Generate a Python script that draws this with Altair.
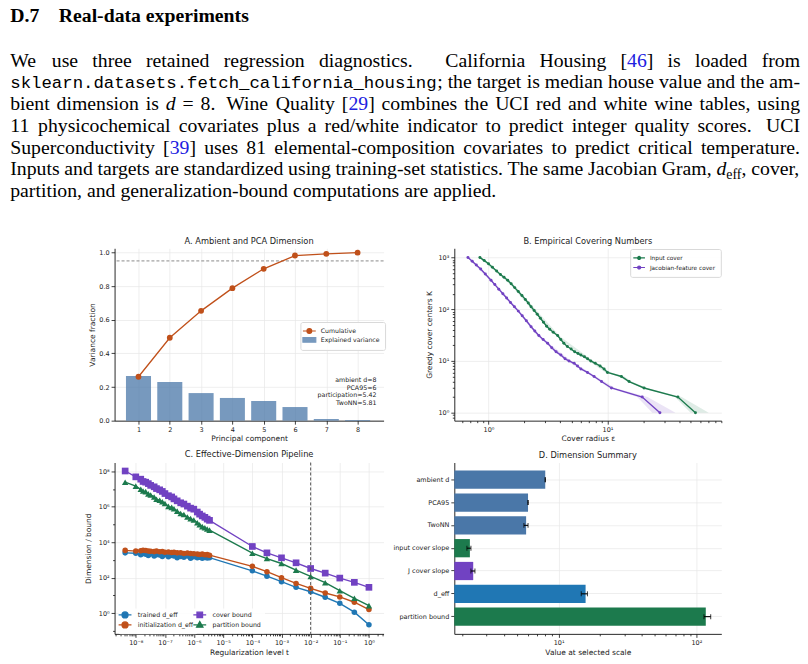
import altair as alt
import pandas as pd

# ------------------------------------------------------------------ data
# A. PCA spectrum of the covariates
pc_index = [1, 2, 3, 4, 5, 6, 7, 8]
explained_var = [0.265, 0.230, 0.164, 0.135, 0.117, 0.081, 0.010, 0.004]
cumulative_var = [0.261, 0.493, 0.653, 0.788, 0.903, 0.982, 0.992, 0.999]
pca_threshold = 0.95
dimension_notes = ["ambient d=8", "PCA95=6", "participation=5.42", "TwoNN=5.81"]

# B. Greedy covering numbers (cover radius, number of centres)
input_eps = [0.847, 0.92, 1.00, 1.08, 1.17, 1.26, 1.35, 1.45, 1.55, 1.66, 1.78, 1.91,
             2.04, 2.16, 2.28, 2.42, 2.57, 2.73, 2.90, 3.08, 3.27, 3.50, 3.81, 4.05,
             4.30, 4.60, 4.95, 5.30, 5.65, 5.98, 6.40, 6.80, 7.24, 7.90, 8.67, 9.37,
             10.0, 13.1, 15.2, 20.3, 39.1, 54.9]
input_K = [1000, 880, 760, 650, 550, 470, 415, 365, 310, 262, 220, 185, 155, 132, 112,
           95, 80, 67, 56, 47, 41, 36, 31, 26, 22, 19, 17, 15, 14, 13, 12, 11, 10, 9,
           8, 7, 6, 5, 4, 3, 2, 1]
jac_eps = [0.672, 0.73, 0.79, 0.86, 0.94, 1.05, 1.13, 1.22, 1.32, 1.42, 1.53, 1.65,
           1.78, 1.92, 2.08, 2.28, 2.45, 2.65, 2.88, 3.14, 3.40, 3.70, 4.06, 4.40,
           4.75, 5.25, 5.60, 5.98, 6.79, 7.72, 8.91, 10.8, 19.6, 27.6]
jac_K = [1000, 850, 720, 600, 480, 365, 300, 245, 200, 165, 135, 112, 92, 75, 60, 46,
         38, 31, 26, 22, 18, 15, 13, 11, 10, 9, 8, 7, 6, 5, 4, 3, 2, 1]
# spread of the cover radius over repeated greedy runs
input_band_K = [1000, 300, 100, 30, 10, 6, 5, 4, 3, 2, 1]
input_band_lo = [0.83, 1.53, 2.30, 3.72, 7.0, 9.6, 12.4, 14.7, 19.6, 37.0, 50.0]
input_band_hi = [0.87, 1.63, 2.48, 3.98, 7.6, 10.7, 13.9, 16.0, 21.4, 42.0, 71.0]
jac_band_K = [1000, 300, 100, 30, 10, 5, 3, 2, 1]
jac_band_lo = [0.66, 1.11, 1.70, 2.58, 4.55, 7.45, 10.3, 17.8, 23.8]
jac_band_hi = [0.69, 1.16, 1.78, 2.72, 4.95, 8.05, 11.6, 21.7, 37.3]

# C. Effective dimension and bounds along the regularization path (log10 values)
t_log10 = [-8.365, -8.0, -7.83, -7.75, -7.66, -7.57, -7.49, -7.37, -7.29, -7.18, -7.09,
           -7.0, -6.88, -6.77, -6.69, -6.58, -6.46, -6.35, -6.23, -6.12, -6.01, -5.89,
           -5.81, -5.72, -5.63, -5.55, -5.47, -4.0, -3.5, -3.0, -2.5, -2.0, -1.5, -1.0,
           -0.5, 0.0]
trained_log10 = [3.40, 3.38, 3.30, 3.36, 3.32, 3.25, 3.34, 3.22, 3.30, 3.28, 3.20, 3.30,
                 3.18, 3.26, 3.22, 3.12, 3.20, 3.15, 3.22, 3.10, 3.18, 3.12, 3.16, 3.10,
                 3.14, 3.11, 3.13, 2.39, 2.09, 1.78, 1.46, 1.21, 0.90, 0.56, 0.06, -0.65]
init_log10 = [3.54, 3.50, 3.52, 3.55, 3.53, 3.50, 3.49, 3.47, 3.50, 3.46, 3.48, 3.44,
              3.45, 3.42, 3.44, 3.40, 3.41, 3.37, 3.39, 3.36, 3.35, 3.33, 3.31, 3.33,
              3.29, 3.30, 3.27, 2.64, 2.34, 2.00, 1.68, 1.40, 1.14, 0.92, 0.62, 0.21]
cover_log10 = [8.01, 7.68, 7.55, 7.42, 7.38, 7.30, 7.20, 7.12, 7.02, 6.95, 6.86, 6.74,
               6.62, 6.55, 6.44, 6.33, 6.22, 6.15, 6.03, 5.92, 5.86, 5.70, 5.58, 5.48,
               5.40, 5.30, 5.23, 3.76, 3.40, 3.12, 2.84, 2.52, 2.26, 1.98, 1.74, 1.46]
partition_log10 = [7.38, 7.16, 6.98, 6.88, 6.85, 6.72, 6.66, 6.55, 6.42, 6.36, 6.28, 6.18,
                   6.02, 5.96, 5.88, 5.75, 5.62, 5.56, 5.42, 5.33, 5.25, 5.10, 4.98, 4.88,
                   4.81, 4.74, 4.68, 3.38, 3.08, 2.80, 2.43, 2.07, 1.72, 1.27, 0.84, 0.43]
selected_t = 0.01

# D. Dimension summary at the selected scale
summary_labels = ["ambient d", "PCA95", "TwoNN", "input cover slope", "J cover slope",
                  "d_eff", "partition bound"]
summary_values = [8.0, 6.0, 5.81, 2.27, 2.40, 15.7, 117.0]
summary_lo = [7.97, 5.98, 5.60, 2.16, 2.31, 14.6, 113.5]
summary_hi = [8.03, 6.02, 6.00, 2.31, 2.47, 16.2, 127.0]

# ------------------------------------------------------------------ styling
FONT = "DejaVu Sans"
INK = "#222222"
ORANGE = "#c0501a"
BLUE = "#2077b4"
STEEL = "#4a77a8"
STEEL_SOFT = "#7799be"
GREEN = "#1c7a4d"
PURPLE = "#7142c2"
summary_colors = [STEEL, STEEL, STEEL, GREEN, PURPLE, BLUE, GREEN]

SUPMAP = {"-": "\u207b", "0": "\u2070", "1": "\u00b9", "2": "\u00b2", "3": "\u00b3",
          "4": "\u2074", "5": "\u2075", "6": "\u2076", "7": "\u2077", "8": "\u2078",
          "9": "\u2079"}


def pow_label(e):
    return "10" + "".join(SUPMAP[c] for c in str(e))


def pow_axis(exps, title, orient, title_pad=2.3):
    expr = "".join(
        f"abs(log(datum.value)/LN10 - ({e})) < 0.001 ? '{pow_label(e)}' : " for e in exps
    ) + "''"
    return alt.Axis(values=[10.0 ** e for e in exps], labelExpr=expr, title=title,
                    orient=orient, titlePadding=title_pad, grid=True,
                    labelOverlap=False, labelFlush=False)


def minor_axis(values, orient):
    return alt.Axis(values=values, orient=orient, labels=False, grid=False, tickSize=2,
                    domain=False, title=None)


def sub_decades(lo_exp, hi_exp, lo, hi):
    vals = []
    for e in range(lo_exp, hi_exp + 1):
        for k in range(2, 10):
            v = k * 10.0 ** e
            if lo <= v <= hi:
                vals.append(v)
    return vals


def legend_keys(names, colors, shapes, field="key", frame="#d9d9d9", **legend_kw):
    leg = alt.Legend(title=None, orient="none", symbolOpacity=1, labelFont=FONT,
                     labelColor=INK, fillColor="rgba(255,255,255,0.85)",
                     strokeColor=frame, cornerRadius=2, symbolSize=36, **legend_kw)
    df = pd.DataFrame({field: names})
    return alt.Chart(df).transform_filter("false").mark_point(
        filled=True, opacity=1, strokeWidth=1.2
    ).encode(
        fill=alt.Fill(f"{field}:N", scale=alt.Scale(domain=names, range=colors), legend=leg),
        stroke=alt.Stroke(f"{field}:N", scale=alt.Scale(domain=names, range=colors),
                          legend=leg),
        shape=alt.Shape(f"{field}:N", scale=alt.Scale(domain=names, range=shapes),
                        legend=leg),
    )


# legend glyphs: a short line segment with the series marker (unit box = 6 px)
LINE_DOT = "M-2.15,0H2.15M0.8,0A0.8,0.8,0,1,1,-0.8,0A0.8,0.8,0,1,1,0.8,0Z"
PATCH = "M-2.15,-0.75H2.15V0.75H-2.15Z"
LINE_SMALL_DOT = "M-1.95,0H1.95M0.5,0A0.5,0.5,0,1,1,-0.5,0A0.5,0.5,0,1,1,0.5,0Z"
LINE_CIRCLE = "M-2.15,0H2.15M1.0,0A1.0,1.0,0,1,1,-1.0,0A1.0,1.0,0,1,1,1.0,0Z"
LINE_SQUARE = "M-2.15,0H2.15M-0.93,-0.93H0.93V0.93H-0.93Z"
LINE_TRIANGLE = "M-2.15,0H2.15M0,-1.1L1.05,0.75H-1.05Z"

ROW1_H = 173
ROW2_H = 172

# ------------------------------------------------------------------ A
a_df = pd.DataFrame({"pc": pc_index, "explained": explained_var,
                     "cumulative": cumulative_var})
xA = alt.Scale(domain=[0.236, 8.83], nice=False, zero=False)
yA = alt.Scale(domain=[0, 1.025], nice=False, zero=False)

a_bars = alt.Chart(a_df).transform_calculate(
    left="datum.pc - 0.4", right="datum.pc + 0.4", base="0"
).mark_bar(color=STEEL, opacity=0.75).encode(
    x=alt.X("left:Q", scale=xA, axis=alt.Axis(values=pc_index, format="d", grid=True,
                                              title="Principal component", titlePadding=2.3)),
    x2="right:Q",
    y=alt.Y("explained:Q", scale=yA,
            axis=alt.Axis(values=[0, 0.2, 0.4, 0.6, 0.8, 1.0], format=".1f", grid=True,
                          title="Variance fraction", titlePadding=2.5)),
    y2="base:Q",
)
a_thr = alt.Chart(pd.DataFrame({"thr": [pca_threshold]})).mark_rule(
    color="#8a8a8a", strokeDash=[3, 2], strokeWidth=1
).encode(y=alt.Y("thr:Q", scale=yA, axis=None))
a_line = alt.Chart(a_df).mark_line(color=ORANGE, strokeWidth=1.3).encode(
    x=alt.X("pc:Q", scale=xA, axis=None), y=alt.Y("cumulative:Q", scale=yA, axis=None))
a_pts = alt.Chart(a_df).mark_circle(color=ORANGE, size=34, opacity=1).encode(
    x=alt.X("pc:Q", scale=xA, axis=None), y=alt.Y("cumulative:Q", scale=yA, axis=None))
a_note = alt.Chart(pd.DataFrame({"note": ["\n".join(dimension_notes)],
                                 "nx": [8.6], "ny": [0.258]})).mark_text(
    align="right", baseline="top", font=FONT, fontSize=6.3, color=INK,
    lineBreak="\n", lineHeight=7.6
).encode(x=alt.X("nx:Q", scale=xA, axis=None), y=alt.Y("ny:Q", scale=yA, axis=None),
         text="note:N")
a_leg = legend_keys(["Cumulative", "Explained variance"], [ORANGE, STEEL_SOFT],
                    [LINE_DOT, PATCH], legendX=186.5, legendY=74, padding=5,
                    symbolStrokeWidth=1.2, labelFontSize=6.2, labelOffset=7.5,
                    rowPadding=-1.6)
panel_a = alt.layer(a_bars, a_thr, a_line, a_pts, a_note, a_leg).resolve_axis(
    x="independent", y="independent"
).properties(width=270, height=ROW1_H, title="A. Ambient and PCA Dimension")

# ------------------------------------------------------------------ B
xB = alt.Scale(type="log", domain=[0.516, 90.6], nice=False)
yB = alt.Scale(type="log", domain=[0.70, 1510], nice=False)
b_specs = [
    ("Input cover", GREEN, input_eps, input_K, input_band_K, input_band_lo, input_band_hi),
    ("Jacobian-feature cover", PURPLE, jac_eps, jac_K, jac_band_K, jac_band_lo, jac_band_hi),
]
b_layers = []
for i, (name, color, eps, ks, bk, blo, bhi) in enumerate(b_specs):
    band_df = pd.DataFrame({"K": bk, "lo": blo, "hi": bhi})
    line_df = pd.DataFrame({"eps": eps, "K": ks})
    if i == 0:
        bx = alt.X("lo:Q", scale=xB, axis=pow_axis([0, 1], "Cover radius \u03b5", "bottom"))
        by = alt.Y("K:Q", scale=yB,
                   axis=pow_axis([0, 1, 2, 3], "Greedy cover centers K", "left", 4.2))
        lx = alt.X("eps:Q", scale=xB,
                   axis=minor_axis([0.6, 0.7, 0.8, 0.9] + sub_decades(0, 1, 0.5, 90.6),
                                   "bottom"))
        ly = alt.Y("K:Q", scale=yB,
                   axis=minor_axis([0.8, 0.9] + sub_decades(0, 2, 1, 1000), "left"))
    else:
        bx = alt.X("lo:Q", scale=xB, axis=None)
        by = alt.Y("K:Q", scale=yB, axis=None)
        lx = alt.X("eps:Q", scale=xB, axis=None)
        ly = alt.Y("K:Q", scale=yB, axis=None)
    b_layers.append(alt.Chart(band_df).mark_area(orient="horizontal", opacity=0.14,
                                                 color=color).encode(x=bx, x2="hi:Q", y=by))
    b_layers.append(alt.Chart(line_df).mark_line(strokeWidth=1.4, color=color).encode(
        x=lx, y=ly))
    b_layers.append(alt.Chart(line_df).mark_circle(size=9, opacity=1, color=color).encode(
        x=alt.X("eps:Q", scale=xB, axis=None), y=alt.Y("K:Q", scale=yB, axis=None)))
b_leg = legend_keys([s[0] for s in b_specs], [GREEN, PURPLE],
                    [LINE_SMALL_DOT, LINE_SMALL_DOT],
                    legendX=176.5, legendY=0.7, padding=5,
                    symbolStrokeWidth=1.2, labelFontSize=5.8, labelOffset=6.8,
                    rowPadding=1.6)
panel_b = alt.layer(*b_layers, b_leg).resolve_axis(
    x="independent", y="independent"
).properties(width=268, height=ROW1_H, title="B. Empirical Covering Numbers")

# ------------------------------------------------------------------ C
xC = alt.Scale(type="log", domain=[1.87e-9, 3.18], nice=False)
yC = alt.Scale(type="log", domain=[0.069, 3.08e8], nice=False)
c_specs = [
    ("trained d_eff", BLUE, trained_log10, "circle", 31, LINE_CIRCLE),
    ("initialization d_eff", ORANGE, init_log10, "circle", 31, LINE_CIRCLE),
    ("cover bound", PURPLE, cover_log10, "square", 45, LINE_SQUARE),
    ("partition bound", GREEN, partition_log10, "triangle-up", 42, LINE_TRIANGLE),
]
c_layers = []
for i, (name, color, vals, shape, size, _) in enumerate(c_specs):
    df = pd.DataFrame({"t": [10 ** v for v in t_log10], "value": [10 ** v for v in vals]})
    if i == 0:
        lx = alt.X("t:Q", scale=xC,
                   axis=pow_axis(list(range(-8, 1)), "Regularization level t", "bottom"))
        ly = alt.Y("value:Q", scale=yC,
                   axis=pow_axis([0, 2, 4, 6, 8], "Dimension / bound", "left", 5.5))
        px = alt.X("t:Q", scale=xC,
                   axis=minor_axis(sub_decades(-9, 0, 1.87e-9, 3.18), "bottom"))
        py = alt.Y("value:Q", scale=yC,
                   axis=minor_axis([10.0 ** e for e in [-1, 1, 3, 5, 7]], "left"))
    else:
        lx = alt.X("t:Q", scale=xC, axis=None)
        ly = alt.Y("value:Q", scale=yC, axis=None)
        px = alt.X("t:Q", scale=xC, axis=None)
        py = alt.Y("value:Q", scale=yC, axis=None)
    c_layers.append(alt.Chart(df).mark_line(strokeWidth=1.4, color=color).encode(x=lx, y=ly))
    c_layers.append(alt.Chart(df).mark_point(shape=shape, filled=True, size=size, opacity=1,
                                             color=color).encode(x=px, y=py))
c_sel = alt.Chart(pd.DataFrame({"t": [selected_t]})).mark_rule(
    color="#555555", strokeDash=[3, 2], strokeWidth=1
).encode(x=alt.X("t:Q", scale=xC, axis=None))
# legend in two columns: d_eff curves on the left, bounds on the right
c_leg_left = legend_keys([s[0] for s in c_specs[:2]], [s[1] for s in c_specs[:2]],
                         [s[5] for s in c_specs[:2]], field="deff_key", frame="transparent",
                         legendX=3.5, legendY=146, padding=3,
                         symbolStrokeWidth=1.3, labelFontSize=6.3, labelOffset=8.8,
                         rowPadding=-3)
c_leg_right = legend_keys([s[0] for s in c_specs[2:]], [s[1] for s in c_specs[2:]],
                          [s[5] for s in c_specs[2:]], field="bound_key", frame="transparent",
                          legendX=78.5, legendY=146, padding=3,
                          symbolStrokeWidth=1.3, labelFontSize=6.3, labelOffset=8.8,
                          rowPadding=-3)
panel_c = alt.layer(*c_layers, c_sel, c_leg_left, c_leg_right).resolve_axis(
    x="independent", y="independent"
).resolve_scale(
    fill="independent", stroke="independent", shape="independent"
).resolve_legend(
    fill="independent", stroke="independent", shape="independent"
).properties(width=270, height=ROW2_H, title="C. Effective-Dimension Pipeline")

# ------------------------------------------------------------------ D
d_df = pd.DataFrame({"label": summary_labels, "value": summary_values,
                     "lo": summary_lo, "hi": summary_hi})
xD = alt.Scale(type="log", domain=[1.75, 151.7], nice=False)
yD = alt.Scale(domain=summary_labels, paddingInner=0.2, paddingOuter=0.355)

d_bars = alt.Chart(d_df).mark_bar().encode(
    x=alt.X("value:Q", scale=xD, axis=pow_axis([1, 2], "Value at selected scale", "bottom")),
    x2=alt.datum(1.75),
    y=alt.Y("label:N", scale=yD, sort=summary_labels,
            axis=alt.Axis(title=None, grid=True, orient="left", labelColor=INK)),
    color=alt.Color("label:N", scale=alt.Scale(domain=summary_labels, range=summary_colors),
                    legend=None),
)
d_err = alt.Chart(d_df).mark_rule(color="black", strokeWidth=1.1).encode(
    x=alt.X("lo:Q", scale=xD, axis=minor_axis(sub_decades(0, 1, 1.75, 151.7), "bottom")),
    x2="hi:Q",
    y=alt.Y("label:N", scale=yD, sort=summary_labels, axis=None))
d_cap_lo = alt.Chart(d_df).mark_tick(color="black", thickness=1.1, size=5,
                                     orient="vertical").encode(
    x=alt.X("lo:Q", scale=xD, axis=None),
    y=alt.Y("label:N", scale=yD, sort=summary_labels, axis=None))
d_cap_hi = alt.Chart(d_df).mark_tick(color="black", thickness=1.1, size=5,
                                     orient="vertical").encode(
    x=alt.X("hi:Q", scale=xD, axis=None),
    y=alt.Y("label:N", scale=yD, sort=summary_labels, axis=None))
panel_d = alt.layer(d_bars, d_err, d_cap_lo, d_cap_hi).resolve_axis(
    x="independent", y="independent"
).properties(width=268, height=ROW2_H, title="D. Dimension Summary")

# ------------------------------------------------------------------ text block
BODY = 19.8
SUB = 13.9
MONO_ADV = 10.45
LEFT, RIGHT = 7.3, 800.0
BASE0, LEAD = 65.7, 21.8
TOP_BLOCK = 248  # height of the text block above the first row of panels

TIMES_ADV = {" ": 250, ".": 250, ",": 250, ";": 278, "-": 333, "[": 333, "]": 333,
             "/": 278, "=": 564}
TIMES_ADV.update(dict(zip("abcdefghijklmnopqrstuvwxyz",
                          [444, 500, 444, 500, 444, 333, 500, 500, 278, 278, 500, 278, 778,
                           500, 500, 500, 500, 333, 389, 278, 500, 500, 722, 500, 500, 444])))
TIMES_ADV.update(dict(zip("ABCDEFGHIJKLMNOPQRSTUVWXYZ",
                          [722, 667, 667, 722, 611, 556, 722, 722, 333, 389, 722, 611, 889,
                           722, 722, 556, 722, 667, 556, 611, 722, 722, 944, 722, 722, 611])))


def piece_width(text, style):
    if style == "mono":
        return MONO_ADV * len(text)
    size = SUB if style == "sub" else BODY
    return sum(TIMES_ADV.get(c, 500) for c in text) * size / 1000.0


def plain(s):
    return [[(w, "roman")] for w in s.split()]


def cite(num):
    return [[("[", "roman"), (num, "blue"), ("]", "roman")]]


paragraph = [
    (plain("We use three retained regression diagnostics. California Housing")
     + cite("46") + plain("is loaded from"), True),
    ([[("sklearn.datasets.fetch_california_housing", "mono"), (";", "roman")]]
     + plain("the target is median house value and the am-"), True),
    (plain("bient dimension is") + [[("d", "italic")], [("=", "roman")], [("8.", "roman")]]
     + plain("Wine Quality") + cite("29")
     + plain("combines the UCI red and white wine tables, using"), True),
    (plain("11 physicochemical covariates plus a red/white indicator to predict integer "
           "quality scores. UCI"), True),
    (plain("Superconductivity") + cite("39")
     + plain("uses 81 elemental-composition covariates to predict critical temperature."), True),
    (plain("Inputs and targets are standardized using training-set statistics. "
           "The same Jacobian Gram,")
     + [[("d", "italic"), ("eff", "sub"), (",", "roman")]] + plain("cover,"), True),
    (plain("partition, and generalization-bound computations are applied."), False),
]

text_rows = [
    {"text": "D.7", "x": LEFT, "y": 20.7, "style": "bold"},
    {"text": "Real-data experiments", "x": 56.0, "y": 20.7, "style": "bold"},
]
natural_space = 0.25 * BODY
for i, (words, justify) in enumerate(paragraph):
    y = BASE0 + i * LEAD
    widths = [sum(piece_width(t, s) for t, s in w) for w in words]
    gaps = len(words) - 1
    sentence = [words[k][-1][0].endswith(".") for k in range(gaps)]
    stretch = 0.0
    if justify:
        units = sum(3 if s else 1 for s in sentence)
        stretch = (RIGHT - LEFT - sum(widths) - gaps * natural_space) / units
    x = LEFT
    for k, w in enumerate(words):
        px = x
        for t, s in w:
            text_rows.append({"text": t, "x": px, "y": y + (4.0 if s == "sub" else 0.0),
                              "style": s})
            px += piece_width(t, s)
        x += widths[k]
        if k < gaps:
            x += natural_space + stretch * (3 if sentence[k] else 1)

hdr_df = pd.DataFrame(text_rows)
hx = alt.X("x:Q", scale=alt.Scale(domain=[0, 808], range=[0, 808], nice=False, zero=False),
           axis=None)
hy = alt.Y("y:Q", scale=alt.Scale(domain=[0, TOP_BLOCK], range=[-TOP_BLOCK, 0], nice=False,
                                  zero=False), axis=None)
SERIF = "Liberation Serif"
text_styles = {
    "bold": dict(font=SERIF, fontSize=BODY, fontWeight="bold", color="#000000"),
    "roman": dict(font=SERIF, fontSize=BODY, color="#000000"),
    "blue": dict(font=SERIF, fontSize=BODY, color="#2020e0"),
    "italic": dict(font=SERIF, fontSize=BODY, fontStyle="italic", color="#000000"),
    "sub": dict(font=SERIF, fontSize=SUB, color="#000000"),
    "mono": dict(font="Liberation Mono", fontSize=17.4, color="#000000"),
}
hdr_layers = [
    alt.Chart(hdr_df).transform_filter(alt.datum.style == key).mark_text(
        align="left", baseline="alphabetic", **props
    ).encode(x=hx, y=hy, text="text:N")
    for key, props in text_styles.items()
]
# white sheet behind the text block; it also anchors the page's top-left corner
sheet = alt.Chart(pd.DataFrame({"v": [0]})).mark_rect(color="white").encode(
    x=alt.value(0), x2=alt.value(808), y=alt.value(-TOP_BLOCK), y2=alt.value(-40))
text_block = alt.layer(sheet, *hdr_layers).properties(width=41, height=ROW1_H)

spacer = alt.Chart(pd.DataFrame({"v": [0]})).mark_point(opacity=0).encode(
    x=alt.value(0), y=alt.value(0)).properties(width=41, height=ROW2_H)

# ------------------------------------------------------------------ layout
chart = alt.concat(
    text_block, panel_a, panel_b, spacer, panel_c, panel_d,
    columns=3, spacing={"row": 42, "column": 71}, bounds="flush"
).resolve_scale(
    color="independent", fill="independent", stroke="independent", shape="independent"
).resolve_legend(
    color="independent", fill="independent", stroke="independent", shape="independent"
).properties(
    padding={"left": 0, "top": 0, "right": 0, "bottom": 0}, background="white"
).configure_view(stroke=None).configure_title(
    font=FONT, fontSize=8.3, fontWeight="normal", color=INK, anchor="middle",
    offset=3.5, frame="group", baseline="bottom"
).configure_axis(
    domainColor="#111111", domainWidth=0.9, tickColor="#111111", tickWidth=0.8,
    tickSize=3.5, labelFont=FONT, labelFontSize=6.5, labelColor=INK, labelPadding=2,
    titleFont=FONT, titleFontSize=7.5, titleFontWeight="normal", titleColor=INK,
    gridColor="#e6e6e6", gridWidth=0.7, labelFlush=False
)

chart.save("out.html", embed_options={"renderer": "svg", "actions": False})
